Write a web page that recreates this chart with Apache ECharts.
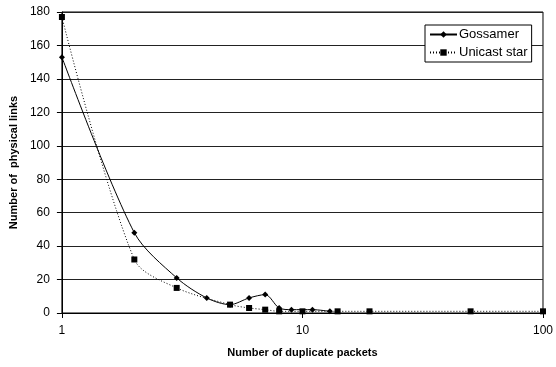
<!DOCTYPE html>
<html>
<head>
<meta charset="utf-8">
<script src="https://cdn.jsdelivr.net/npm/echarts@6/dist/echarts.min.js"></script>
<style>
  html, body { margin: 0; padding: 0; background: #fff; }
  #chart { width: 556px; height: 367px; }
</style>
</head>
<body>
<div id="chart"></div>
<script>
// Duplicate packet counts (x) and physical links carrying them (y)
const gossamerX = [1, 2, 3, 4, 5, 6, 7, 8, 9, 11, 13];
const gossamerY = [153, 48, 21, 9, 5, 9, 11, 3, 2, 2, 1];
const unicastX = [1, 2, 3, 5, 6, 7, 8, 10, 14, 19, 50, 100];
const unicastY = [177, 32, 15, 5, 3, 2, 1, 1, 1, 1, 1, 1];
const seriesNames = ['Gossamer', 'Unicast star'];
const xTickLabels = ['1', '10', '100'];

const pairs = (xs, ys) => xs.map((x, i) => [x, ys[i]]);
const font = 'Liberation Sans, Arial, sans-serif';

const chart = echarts.init(document.getElementById('chart'));
chart.setOption({
  animation: false,
  backgroundColor: '#fff',
  grid: {
    left: 61, right: 13, top: 12, bottom: 54,
    show: true, borderColor: '#000', borderWidth: 1
  },
  legend: {
    orient: 'vertical',
    left: 425, top: 25,
    padding: [3, 4, 3, 4],
    itemGap: 5,
    itemWidth: 27,
    itemHeight: 8,
    backgroundColor: '#fff',
    borderColor: '#000',
    borderWidth: 1,
    borderRadius: 0,
    textStyle: { fontFamily: font, fontSize: 13, color: '#000', padding: [0, 0, 0, -3] },
    data: seriesNames
  },
  xAxis: {
    type: 'log',
    logBase: 10,
    min: 1, max: 100,
    name: 'Number of duplicate packets',
    nameLocation: 'middle',
    nameGap: 34,
    nameTextStyle: { fontFamily: font, fontSize: 11, fontWeight: 'bold', color: '#000' },
    axisLine: { lineStyle: { color: '#000', width: 1 } },
    axisTick: { show: true, length: 5, inside: false, lineStyle: { color: '#000' } },
    minorTick: { show: false },
    splitLine: { show: false },
    axisLabel: {
      fontFamily: font, fontSize: 12, color: '#000', margin: 12,
      formatter: v => {
        const s = String(Math.round(v));
        return xTickLabels.includes(s) ? s : '';
      }
    }
  },
  yAxis: {
    type: 'value',
    min: 0, max: 180, interval: 20,
    name: 'Number of  physical links',
    nameLocation: 'middle',
    nameGap: 38,
    nameTextStyle: { fontFamily: font, fontSize: 11, fontWeight: 'bold', color: '#000' },
    axisLine: { show: true, lineStyle: { color: '#000', width: 1 } },
    axisTick: { show: true, length: 5, lineStyle: { color: '#000' } },
    splitLine: { show: true, lineStyle: { color: '#222', width: 1 } },
    axisLabel: { fontFamily: font, fontSize: 12, color: '#000', margin: 12 }
  },
  series: [
    {
      name: seriesNames[0],
      type: 'line',
      data: pairs(gossamerX, gossamerY),
      smooth: 0.3,
      symbol: 'diamond',
      symbolSize: 6,
      itemStyle: { color: '#000' },
      lineStyle: { color: '#000', width: 1 },
      z: 3
    },
    {
      name: seriesNames[1],
      type: 'line',
      data: pairs(unicastX, unicastY),
      smooth: 0.3,
      symbol: 'rect',
      symbolSize: 6,
      itemStyle: { color: '#000' },
      lineStyle: { color: '#000', width: 1, type: [1, 2] },
      z: 4
    }
  ]
});
</script>
</body>
</html>
